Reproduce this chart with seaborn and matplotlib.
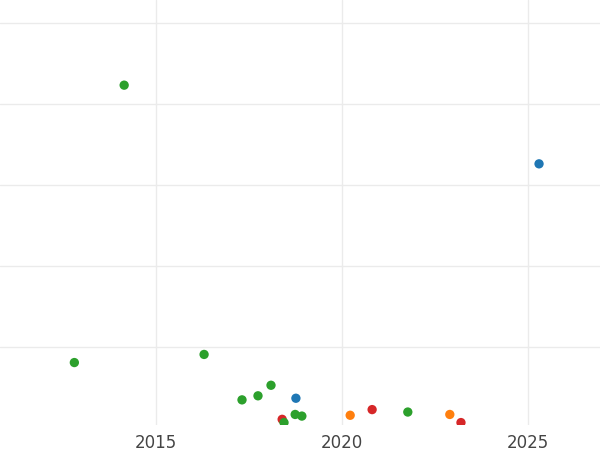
import pandas as pd
import seaborn as sns
import matplotlib.pyplot as plt

# values (y in gridline units)
years = [2014.14, 2025.30, 2012.80, 2016.29, 2017.31, 2017.74, 2018.09, 2018.76, 2018.39,
         2018.44, 2018.74, 2018.92, 2020.22, 2020.81, 2021.77, 2022.90, 2023.20]
values = [4.23, 3.26, 0.81, 0.91, 0.35, 0.40, 0.53, 0.37, 0.11,
          0.07, 0.17, 0.15, 0.16, 0.23, 0.20, 0.17, 0.07]
groups = ["C", "A", "C", "C", "C", "C", "C", "A", "D",
          "C", "C", "C", "B", "D", "C", "B", "D"]

df = pd.DataFrame({"year": years, "value": values, "group": groups})
palette = {"A": "#1f77b4", "B": "#ff7f0e", "C": "#2ca02c", "D": "#d62728"}

sns.set_style("white")
fig = plt.figure(figsize=(6, 4.5), dpi=100)
ax = fig.add_axes([0, 0.055, 1, 0.945])

sns.scatterplot(data=df, x="year", y="value", hue="group", palette=palette,
                s=45, edgecolor="none", legend=False, ax=ax, zorder=3)

ax.set_xlim(2010.8, 2026.94)
ax.set_ylim(0.037, 5.28)
ax.set_xticks([2015, 2020, 2025])
ax.set_yticks([1, 2, 3, 4, 5])
ax.set_yticklabels([])
ax.grid(True, color="#ebebeb", linewidth=1)
ax.tick_params(axis="x", length=0, labelsize=12, labelcolor="#444444", pad=6)
ax.tick_params(axis="y", length=0)
ax.set_xlabel("")
ax.set_ylabel("")
for s in ax.spines.values():
    s.set_visible(False)

plt.savefig("out.png")
